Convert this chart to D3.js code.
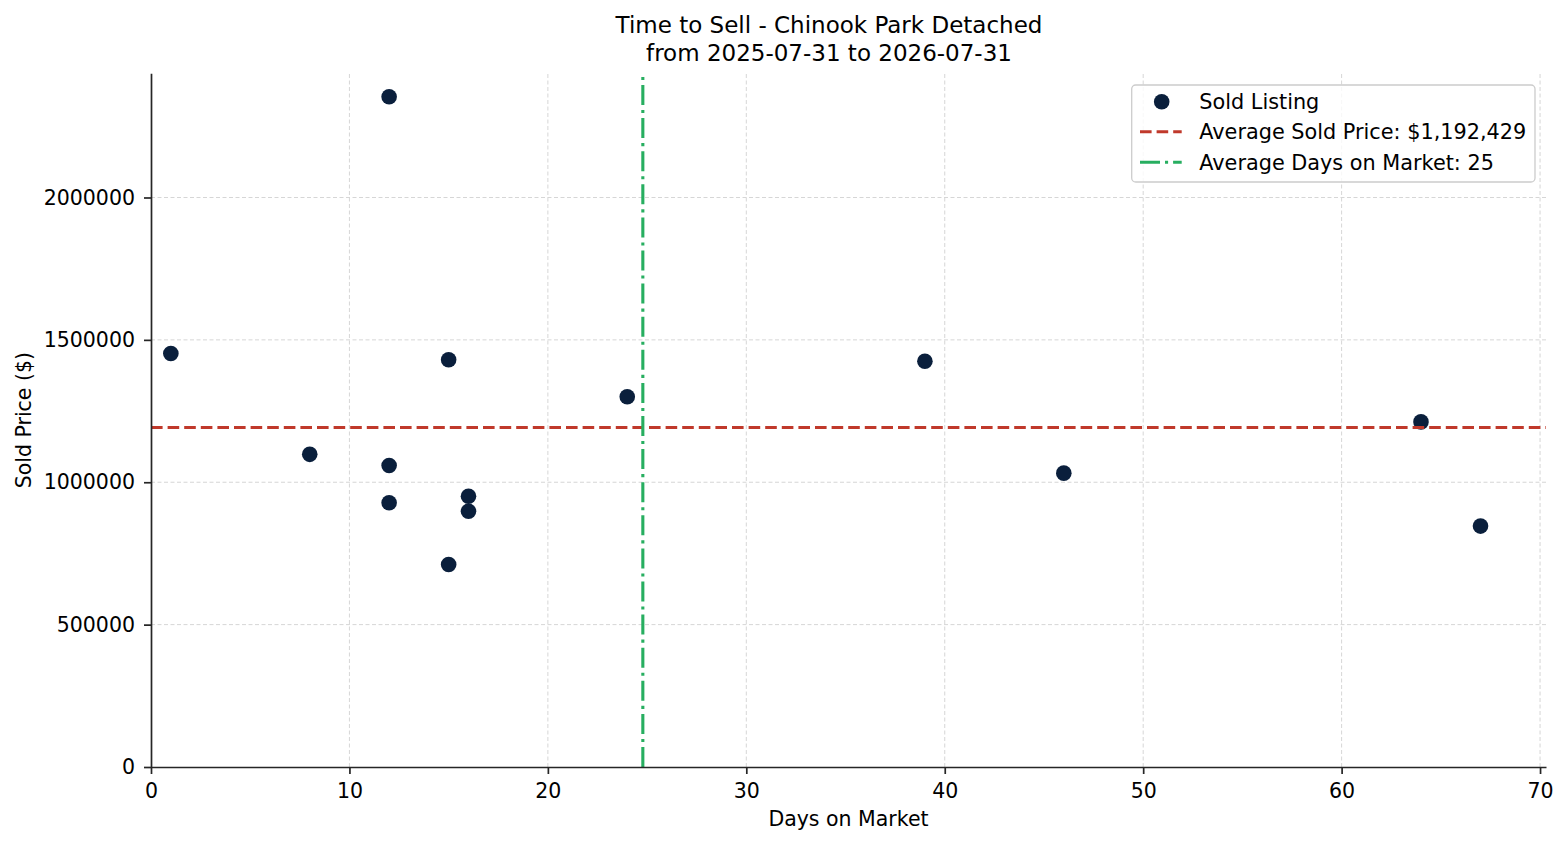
<!DOCTYPE html>
<html>
<head>
<meta charset="utf-8">
<script src="https://cdn.jsdelivr.net/npm/d3@7"></script>
<style>
  html, body { margin: 0; padding: 0; background: #ffffff; }
  svg text { font-family: "DejaVu Sans", sans-serif; fill: #000; }
</style>
</head>
<body>
<svg id="chart" width="1567" height="845"></svg>
<script>
// ---- Data ----
const titleLines = ["Time to Sell - Chinook Park Detached", "from 2025-07-31 to 2026-07-31"];
const daysOnMarket = [1, 12, 15, 24, 39, 8, 12, 12, 16, 16, 15, 46, 64, 67];
const soldPrices = [1452000, 2354000, 1430000, 1300000, 1425000, 1098000, 1059000, 928000, 951000, 898000, 711000, 1032000, 1212000, 846000];
const xTicks = [0, 10, 20, 30, 40, 50, 60, 70];
const yTicks = [0, 500000, 1000000, 1500000, 2000000];
const avgSoldPrice = 1192429;
const avgDays = d3.mean(daysOnMarket);
const legendLabels = [
  "Sold Listing",
  "Average Sold Price: $" + d3.format(",")(avgSoldPrice),
  "Average Days on Market: " + Math.round(avgDays)
];

// ---- Layout ----
const W = 1567, H = 845;
const margin = { left: 151, right: 21, top: 73.3, bottom: 78 };
const x0 = margin.left, x1 = W - margin.right, y0 = H - margin.bottom, y1 = margin.top;

const svg = d3.select("#chart");

// matplotlib-like auto limits (5% margin), lower bounds pinned to 0
const xMax = d3.max(daysOnMarket) + 0.05 * (d3.max(daysOnMarket) - d3.min(daysOnMarket));
const yMax = d3.max(soldPrices) + 0.05 * (d3.max(soldPrices) - d3.min(soldPrices));

const x = d3.scaleLinear().domain([0, xMax]).range([x0, x1]);
const y = d3.scaleLinear().domain([0, yMax]).range([y0, y1]);

const fs = 20.5;

// grid
const grid = svg.append("g").attr("class", "grid");
grid.selectAll("line.gx").data(xTicks.filter(t => t > 0)).join("line")
  .attr("x1", d => x(d)).attr("x2", d => x(d)).attr("y1", y0).attr("y2", y1)
  .attr("stroke", "#d6d6d6").attr("stroke-width", 1).attr("stroke-dasharray", "4,2.5");
grid.selectAll("line.gy").data(yTicks.filter(t => t > 0)).join("line")
  .attr("x1", x0).attr("x2", x1).attr("y1", d => y(d)).attr("y2", d => y(d))
  .attr("stroke", "#d6d6d6").attr("stroke-width", 1).attr("stroke-dasharray", "4,2.5");

// points
const pts = daysOnMarket.map((d, i) => ({ d, p: soldPrices[i] }));
svg.append("g").selectAll("circle").data(pts).join("circle")
  .attr("cx", d => x(d.d)).attr("cy", d => y(d.p)).attr("r", 7.8)
  .attr("fill", "#0a1f3c");

// average lines
svg.append("line")
  .attr("x1", x0).attr("x2", x1).attr("y1", y(avgSoldPrice)).attr("y2", y(avgSoldPrice))
  .attr("stroke", "#c0392b").attr("stroke-width", 3.1).attr("stroke-dasharray", "11.6,5");
svg.append("line")
  .attr("x1", x(avgDays)).attr("x2", x(avgDays)).attr("y1", y0).attr("y2", y1)
  .attr("stroke", "#27ae60").attr("stroke-width", 3.1).attr("stroke-dasharray", "20,5,3.1,5");

// axes
const xAxis = svg.append("g").attr("transform", `translate(0,${y0})`)
  .call(d3.axisBottom(x).tickValues(xTicks).tickFormat(d3.format("d")).tickSize(7).tickPadding(9).tickSizeOuter(0));
const yAxis = svg.append("g").attr("transform", `translate(${x0},0)`)
  .call(d3.axisLeft(y).tickValues(yTicks).tickFormat(d3.format("d")).tickSize(7).tickPadding(9).tickSizeOuter(0));
[xAxis, yAxis].forEach(a => {
  a.select(".domain").attr("stroke", "#262626").attr("stroke-width", 1.7);
  a.selectAll(".tick line").attr("stroke", "#262626").attr("stroke-width", 1.7);
  a.selectAll(".tick text").attr("font-size", fs).attr("font-family", "DejaVu Sans").attr("fill", "#000");
});

// axis labels
svg.append("text").attr("x", (x0 + x1) / 2).attr("y", 826).attr("text-anchor", "middle")
  .attr("font-size", fs).text("Days on Market");
svg.append("text").attr("transform", `translate(31,${(y0 + y1) / 2}) rotate(-90)`)
  .attr("text-anchor", "middle").attr("font-size", fs).text("Sold Price ($)");

// title
svg.append("g").selectAll("text").data(titleLines).join("text")
  .attr("x", 829).attr("y", (d, i) => 33 + i * 28).attr("text-anchor", "middle")
  .attr("font-size", 23).text(d => d);

// legend
const lg = svg.append("g");
lg.append("rect").attr("x", 1131.7).attr("y", 85).attr("width", 403.3).attr("height", 97)
  .attr("rx", 4).attr("fill", "#ffffff").attr("fill-opacity", 0.8)
  .attr("stroke", "#cccccc").attr("stroke-width", 1.3);
const rowY = [101.7, 131.7, 162.3];
lg.append("circle").attr("cx", 1161.7).attr("cy", rowY[0]).attr("r", 7.8).attr("fill", "#0a1f3c");
lg.append("line").attr("x1", 1140).attr("x2", 1181.7).attr("y1", rowY[1]).attr("y2", rowY[1])
  .attr("stroke", "#c0392b").attr("stroke-width", 3.1).attr("stroke-dasharray", "11.6,5");
lg.append("line").attr("x1", 1140).attr("x2", 1181.7).attr("y1", rowY[2]).attr("y2", rowY[2])
  .attr("stroke", "#27ae60").attr("stroke-width", 3.1).attr("stroke-dasharray", "20,5,3.1,5");
lg.selectAll("text").data(legendLabels).join("text")
  .attr("x", 1199.3).attr("y", (d, i) => rowY[i] + 7.3).attr("font-size", 20.8).text(d => d);
</script>
</body>
</html>
